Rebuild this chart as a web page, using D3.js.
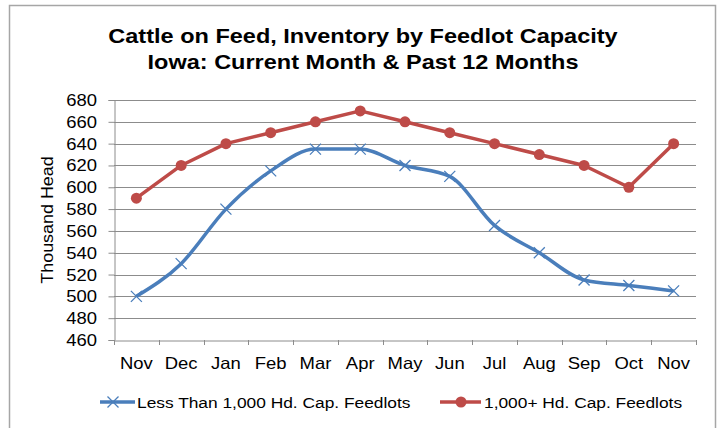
<!DOCTYPE html>
<html>
<head>
<meta charset="utf-8">
<script src="https://cdn.jsdelivr.net/npm/d3@7"></script>
<style>
  body { margin: 0; background: #fff; }
  svg { display: block; font-family: "Liberation Sans", Arial, sans-serif; }
</style>
</head>
<body>
<div id="chart"></div>
<script>
const months = ["Nov", "Dec", "Jan", "Feb", "Mar", "Apr", "May", "Jun", "Jul", "Aug", "Sep", "Oct", "Nov"];
const smallLots = [500, 530, 580, 615, 635, 635, 620, 610, 565, 540, 515, 510, 505];
const largeLots = [590, 620, 640, 650, 660, 670, 660, 650, 640, 630, 620, 600, 640];
const yTicks = [460, 480, 500, 520, 540, 560, 580, 600, 620, 640, 660, 680];

const WIDTH = 718;
const HEIGHT = 428;
const MARGIN = { top: 100, bottom: 88, left: 114, right: 22 };
const SX = 1.12; // el original viene algo estirado en horizontal

const svg = d3.select("#chart").append("svg")
  .attr("width", WIDTH)
  .attr("height", HEIGHT);

// marco del grafico
svg.append("rect")
  .attr("x", 9.5).attr("y", 5.5)
  .attr("width", 706).attr("height", 440)
  .attr("fill", "#fff")
  .attr("stroke", "#a6a6a6")
  .attr("stroke-width", 1.5);

// texto con estiramiento horizontal
function label(g, x, y, txt, size, anchor, weight, rot) {
  return g.append("text")
    .attr("transform", `translate(${x},${y})${rot ? " rotate(" + rot + ")" : ""} scale(${SX},1)`)
    .attr("text-anchor", anchor)
    .attr("font-size", size + "px")
    .attr("font-weight", weight || "normal")
    .attr("fill", "#000")
    .text(txt);
}

const x = d3.scaleBand()
  .domain(d3.range(months.length))
  .range([MARGIN.left, WIDTH - MARGIN.right]);

const y = d3.scaleLinear()
  .domain([460, 680])
  .range([HEIGHT - MARGIN.bottom, MARGIN.top]);

// lineas de grilla
svg.append("g")
  .selectAll("line")
  .data(yTicks.slice(1))
  .join("line")
  .attr("x1", MARGIN.left).attr("x2", WIDTH - MARGIN.right)
  .attr("y1", d => Math.round(y(d)) + 0.5).attr("y2", d => Math.round(y(d)) + 0.5)
  .attr("stroke", "#8c8c8c");

// eje y
const yAxis = svg.append("g")
  .attr("transform", `translate(${MARGIN.left + 0.5},0)`)
  .call(d3.axisLeft(y).tickValues(yTicks).tickSize(6).tickFormat(""));
yAxis.select(".domain").attr("stroke", "#8c8c8c");
yAxis.selectAll(".tick line").attr("stroke", "#8c8c8c");

const yLabels = svg.append("g");
yTicks.forEach(t => label(yLabels, 97, y(t) + 6, t, 16.5, "end"));

// eje x
const xAxis = svg.append("g")
  .attr("transform", `translate(0,${Math.round(y(460)) + 0.5})`)
  .call(d3.axisBottom(x).tickFormat("").tickSize(0));
xAxis.select(".domain").attr("stroke", "#8c8c8c");

// marcas entre categorias
svg.append("g")
  .selectAll("line")
  .data(d3.range(months.length + 1))
  .join("line")
  .attr("x1", i => Math.round(MARGIN.left + i * x.step()) + 0.5)
  .attr("x2", i => Math.round(MARGIN.left + i * x.step()) + 0.5)
  .attr("y1", y(460)).attr("y2", y(460) + 5)
  .attr("stroke", "#8c8c8c");

const cx = i => x(i) + x.bandwidth() / 2;

const xLabels = svg.append("g");
months.forEach((m, i) => label(xLabels, cx(i), 369, m, 16.5, "middle"));

const line = d3.line()
  .x((d, i) => cx(i))
  .y(d => y(d));

const BLUE = "#4a7ebb";
const RED = "#be4b48";

// serie grande
svg.append("path")
  .datum(largeLots)
  .attr("d", line)
  .attr("fill", "none")
  .attr("stroke", RED)
  .attr("stroke-width", 3.5)
  .attr("stroke-linejoin", "round");

svg.append("g")
  .selectAll("circle")
  .data(largeLots)
  .join("circle")
  .attr("cx", (d, i) => cx(i))
  .attr("cy", d => y(d))
  .attr("r", 5.5)
  .attr("fill", RED);

// serie pequena
svg.append("path")
  .datum(smallLots)
  .attr("d", line.curve(d3.curveMonotoneX))
  .attr("fill", "none")
  .attr("stroke", BLUE)
  .attr("stroke-width", 3.5)
  .attr("stroke-linejoin", "round");

const cross = (g, px, py) => {
  g.append("path")
    .attr("d", `M${px - 5.5},${py - 5.5}L${px + 5.5},${py + 5.5}M${px - 5.5},${py + 5.5}L${px + 5.5},${py - 5.5}`)
    .attr("stroke", BLUE)
    .attr("stroke-width", 1.3);
};

const crosses = svg.append("g");
smallLots.forEach((d, i) => cross(crosses, cx(i), y(d)));

// titulo
const title = svg.append("g");
label(title, 363, 43, "Cattle on Feed, Inventory by Feedlot Capacity", 21, "middle", "bold");
label(title, 363, 69, "Iowa: Current Month & Past 12 Months", 21, "middle", "bold");

// etiqueta eje y
label(svg, 53, (y(460) + y(680)) / 2, "Thousand Head", 16, "middle", "normal", -90);

// leyenda
const legendY = 402;
const legend = svg.append("g");
legend.append("line")
  .attr("x1", 100).attr("x2", 135)
  .attr("y1", legendY).attr("y2", legendY)
  .attr("stroke", BLUE).attr("stroke-width", 3.5);
cross(legend, 113, legendY);
label(legend, 137, legendY + 6, "Less Than 1,000 Hd. Cap. Feedlots", 15.5, "start");

legend.append("line")
  .attr("x1", 440).attr("x2", 481)
  .attr("y1", legendY).attr("y2", legendY)
  .attr("stroke", RED).attr("stroke-width", 3.5);
legend.append("circle")
  .attr("cx", 461).attr("cy", legendY).attr("r", 5.5)
  .attr("fill", RED);
label(legend, 484, legendY + 6, "1,000+ Hd. Cap. Feedlots", 15.5, "start");
</script>
</body>
</html>
